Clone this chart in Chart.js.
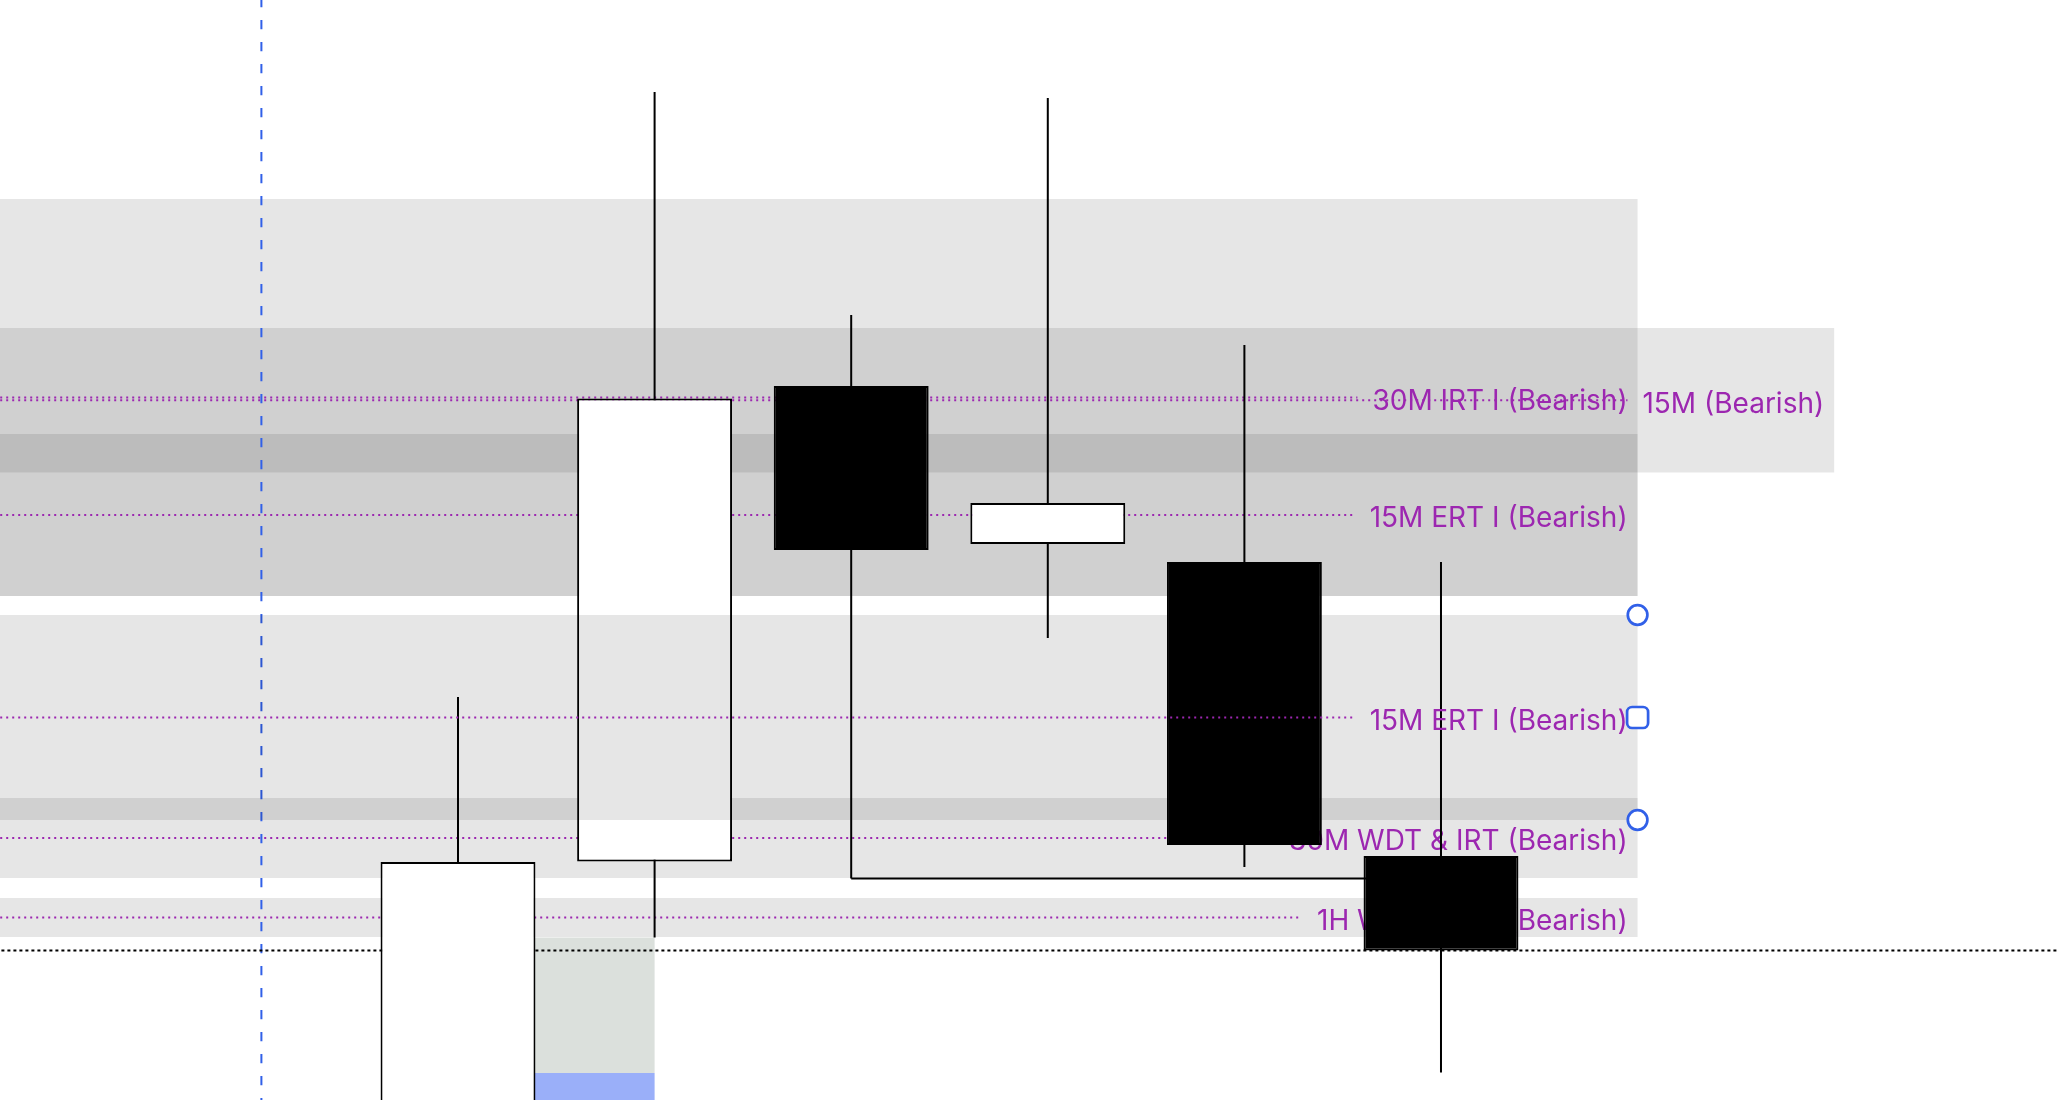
<!DOCTYPE html>
<html lang="en">
<head>
  <meta charset="UTF-8">
  <meta name="viewport" content="width=device-width, initial-scale=1.0">
  <title>Bearish Zones</title>
  <style>
body {
  margin: 0;
  padding: 0;
  background: #ffffff;
  overflow: hidden;
}

.chart-box {
  width: 2058px;
  height: 1100px;
}
  </style>
</head>
<body>

  <div class="chart-box">
    <canvas id="zoneChart" width="2058" height="1100"></canvas>
  </div>

  <script src="https://cdn.jsdelivr.net/npm/chart.js"></script>

  <script>
    // Candles, left to right (slot = bar number on the x axis)
    const candleSlots = [0, 1, 2, 3, 4, 5];
    const opens  = [4492.0, 4523.85, 4571.4, 4555.6, 4553.8, 4524.4];
    const highs  = [4540.3, 4600.8, 4578.5, 4600.2, 4575.5, 4553.8];
    const lows   = [4486.0, 4516.25, 4522.15, 4546.2, 4523.3, 4502.75];
    const closes = [4523.8, 4570.15, 4555.0, 4559.7, 4525.5, 4514.95];

    // Zones: box from start slot to end slot, dotted midline, label at the right
    const zoneLabels  = ['30M IRT I (Bearish)', '15M (Bearish)', '15M ERT I (Bearish)', '15M ERT I (Bearish)', '30M WDT & IRT (Bearish)', '1H WDT & IRT (Bearish)'];
    const zoneTops    = [4590.1, 4577.2, 4566.6, 4548.5, 4530.2, 4520.2];
    const zoneBottoms = [4550.4, 4562.75, 4550.4, 4528.0, 4522.2, 4516.3];
    const zoneStarts  = [-3, -3, -3, -3, -3, -3];
    const zoneEnds    = [6, 7, 6, 6, 6, 6];
    const selectedZone = 3;

    // Other drawings
    const sessionBreak = -1;
    const trendX = [2, 5];
    const trendY = [4522.15, 4522.15];
    const boxX = [0.39, 1];
    const boxLevels = [4516.25, 4502.7, 4480];
    const lastPrice = closes[closes.length - 1];

    // visible window
    const xMin = -2.3296, xMax = 8.1384;
    const yMin = 4500, yMax = 4610;

    const PURPLE = '#9c27b0';
    const HANDLE_BLUE = '#3160e8';
    const LABEL_FONT = '28px Inter, Roboto, "Noto Sans", sans-serif';

    function zoneRect(chart, i) {
      const x = chart.scales.x, y = chart.scales.y;
      const left = x.getPixelForValue(zoneStarts[i]);
      const right = x.getPixelForValue(zoneEnds[i]);
      const top = y.getPixelForValue(zoneTops[i]);
      const bottom = y.getPixelForValue(zoneBottoms[i]);
      return { left, right, top, bottom, mid: (top + bottom) / 2 };
    }

    function fillZone(ctx, chart, i) {
      const r = zoneRect(chart, i);
      ctx.fillStyle = 'rgba(0, 0, 0, 0.098)';
      ctx.fillRect(r.left, r.top, r.right - r.left, r.bottom - r.top);
    }

    function drawZoneText(ctx, chart, i) {
      const r = zoneRect(chart, i);
      ctx.font = LABEL_FONT;
      const textRight = r.right - 10;
      const textLeft = textRight - ctx.measureText(zoneLabels[i]).width;

      // dotted midline up to the label
      ctx.save();
      ctx.strokeStyle = PURPLE;
      ctx.lineWidth = 2;
      ctx.setLineDash([2, 4]);
      ctx.beginPath();
      ctx.moveTo(r.left, r.mid);
      ctx.lineTo(textLeft - 15, r.mid);
      ctx.stroke();
      ctx.restore();

      ctx.fillStyle = PURPLE;
      ctx.textAlign = 'right';
      ctx.textBaseline = 'middle';
      ctx.fillText(zoneLabels[i], textRight, r.mid + 4);
    }

    function drawHandles(ctx, chart, i) {
      const r = zoneRect(chart, i);
      ctx.save();
      ctx.strokeStyle = HANDLE_BLUE;
      ctx.fillStyle = '#ffffff';
      ctx.lineWidth = 2.7;
      [r.top, r.bottom].forEach(yy => {
        ctx.beginPath();
        ctx.arc(r.right, yy, 9.8, 0, Math.PI * 2);
        ctx.fill();
        ctx.stroke();
      });
      ctx.beginPath();
      ctx.roundRect(r.right - 10.5, r.mid - 10.5, 21, 21, 5);
      ctx.fill();
      ctx.stroke();
      ctx.restore();
    }

    const drawingsPlugin = {
      id: 'drawings',
      beforeDatasetsDraw(chart) {
        const ctx = chart.ctx;
        const x = chart.scales.x, y = chart.scales.y;
        ctx.save();

        zoneLabels.forEach((_, i) => { if (i !== selectedZone) fillZone(ctx, chart, i); });
        zoneLabels.forEach((_, i) => { if (i !== selectedZone) drawZoneText(ctx, chart, i); });

        // position box under the second candle
        const bl = x.getPixelForValue(boxX[0]);
        const br = x.getPixelForValue(boxX[1]);
        const b0 = y.getPixelForValue(boxLevels[0]);
        const b1 = y.getPixelForValue(boxLevels[1]);
        const b2 = y.getPixelForValue(boxLevels[2]);
        ctx.fillStyle = '#dbe0dc';
        ctx.fillRect(bl, b0, br - bl, b1 - b0);
        ctx.fillStyle = '#9aaff9';
        ctx.fillRect(bl, b1, br - bl, b2 - b1);

        // session break
        const sx = x.getPixelForValue(sessionBreak);
        ctx.strokeStyle = HANDLE_BLUE;
        ctx.lineWidth = 2;
        ctx.setLineDash([9.3, 12.7]);
        ctx.lineDashOffset = 2;
        ctx.beginPath();
        ctx.moveTo(sx, chart.chartArea.top);
        ctx.lineTo(sx, chart.chartArea.bottom);
        ctx.stroke();

        ctx.restore();
      },
      afterDatasetsDraw(chart) {
        const ctx = chart.ctx;
        ctx.save();
        fillZone(ctx, chart, selectedZone);
        drawZoneText(ctx, chart, selectedZone);
        drawHandles(ctx, chart, selectedZone);
        ctx.restore();
      }
    };

    const ctx = document.getElementById('zoneChart').getContext('2d');

    const zoneChart = new Chart(ctx, {
      type: 'bar',
      data: {
        datasets: [
          {
            // candle bodies
            data: candleSlots.map((s, i) => ({ x: s, y: [opens[i], closes[i]] })),
            backgroundColor: candleSlots.map((s, i) => closes[i] >= opens[i] ? '#ffffff' : '#000000'),
            borderColor: '#000000',
            borderWidth: 2,
            borderSkipped: false,
            grouped: false,
            categoryPercentage: 1,
            barPercentage: 0.788,
            order: 0
          },
          {
            // wicks
            data: candleSlots.map((s, i) => ({ x: s, y: [lows[i], highs[i]] })),
            backgroundColor: '#000000',
            borderWidth: 0,
            grouped: false,
            categoryPercentage: 1,
            barPercentage: 0.0102,
            order: 1
          },
          {
            type: 'line',
            data: trendX.map((v, i) => ({ x: v, y: trendY[i] })),
            borderColor: '#000000',
            borderWidth: 2,
            pointRadius: 0,
            fill: false,
            order: 2
          },
          {
            // last price line
            type: 'line',
            data: [{ x: xMin - 1, y: lastPrice }, { x: xMax + 1, y: lastPrice }],
            borderColor: '#000000',
            borderWidth: 2,
            borderDash: [3, 3],
            pointRadius: 0,
            fill: false,
            order: 3
          }
        ]
      },
      options: {
        responsive: false,
        devicePixelRatio: 1,
        animation: false,
        events: [],
        layout: { padding: 0 },
        plugins: {
          legend: { display: false },
          tooltip: { enabled: false }
        },
        scales: {
          x: {
            type: 'linear',
            min: xMin,
            max: xMax,
            offset: false,
            display: false,
            ticks: { stepSize: 1 }
          },
          y: {
            type: 'linear',
            min: yMin,
            max: yMax,
            display: false
          }
        }
      },
      plugins: [drawingsPlugin]
    });
  </script>

</body>
</html>
